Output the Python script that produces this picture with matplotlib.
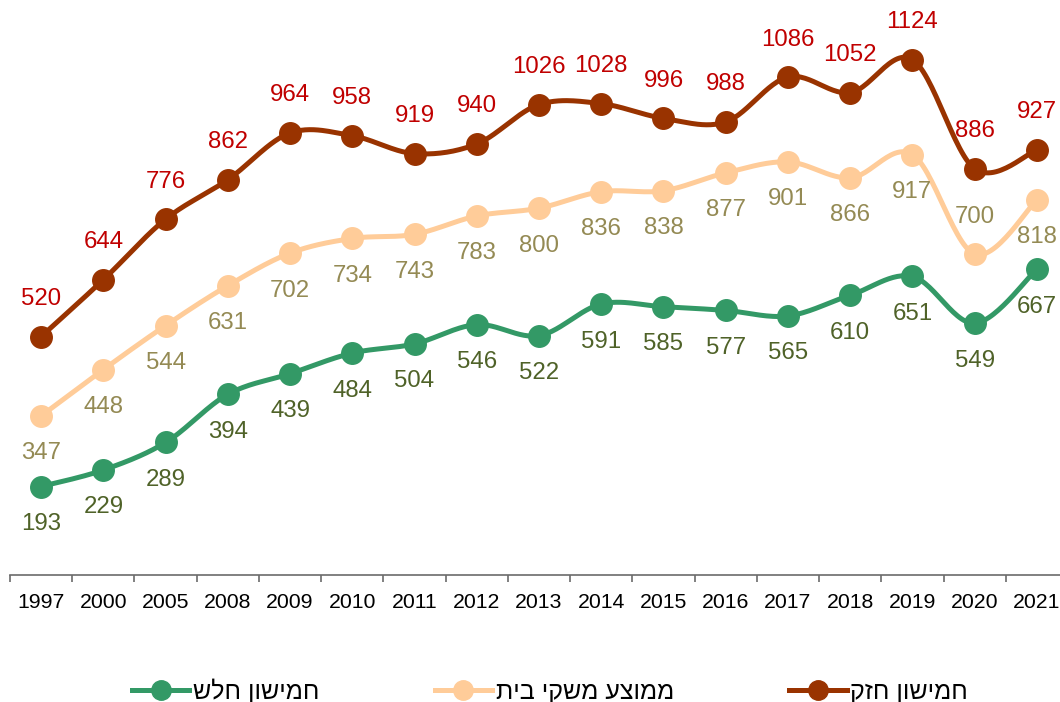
import matplotlib
matplotlib.use("Agg")
import matplotlib.pyplot as plt
from matplotlib.lines import Line2D
import numpy as np

plt.rcParams['font.family'] = ['Liberation Sans', 'DejaVu Sans']

years = ["1997", "2000", "2005", "2008", "2009", "2010", "2011", "2012", "2013",
         "2014", "2015", "2016", "2017", "2018", "2019", "2020", "2021"]
strong = [520, 644, 776, 862, 964, 958, 919, 940, 1026, 1028, 996, 988, 1086,
          1052, 1124, 886, 927]
average = [347, 448, 544, 631, 702, 734, 743, 783, 800, 836, 838, 877, 901,
           866, 917, 700, 818]
weak = [193, 229, 289, 394, 439, 484, 504, 546, 522, 591, 585, 577, 565,
        610, 651, 549, 667]

names = ["חמישון חזק", "ממוצע משקי בית", "חמישון חלש"]


def rtl(s):
    # matplotlib has no bidi support, reverse for display
    return s[::-1]


def smooth(x, y, n=30):
    # excel-like smoothed line: cubic bezier through points
    x = np.asarray(x, float)
    y = np.asarray(y, float)
    P = np.column_stack([x, y])
    out = [P[0]]
    for i in range(len(P) - 1):
        p0 = P[i - 1] if i > 0 else P[i]
        p1 = P[i]
        p2 = P[i + 1]
        p3 = P[i + 2] if i + 2 < len(P) else P[i + 1]
        c1 = p1 + (p2 - p0) / 6
        c2 = p2 - (p3 - p1) / 6
        t = np.linspace(0, 1, n)[1:, None]
        seg = ((1 - t) ** 3) * p1 + 3 * ((1 - t) ** 2) * t * c1 \
            + 3 * (1 - t) * t ** 2 * c2 + t ** 3 * p2
        out.extend(seg)
    out = np.array(out)
    return out[:, 0], out[:, 1]


W, H = 1060, 702
fig = plt.figure(figsize=(W / 100, H / 100), dpi=100)
ax = fig.add_axes([10 / W, (H - 575) / H, 1058 / W, 575 / H])

x = np.arange(len(years))
series = [
    (strong, "#993300", "#C00000", 1),
    (average, "#FFCC99", "#948A54", -1),
    (weak, "#339966", "#4F6228", -1),
]
handles = []
for (vals, col, lcol, side), name in zip(series, names):
    sx, sy = smooth(x, vals)
    ax.plot(sx, sy, color=col, lw=3.6, solid_capstyle="round", zorder=2,
            clip_on=False)
    ax.plot(x, vals, "o", color=col, ms=15.5, zorder=3, clip_on=False)
    for i, v in enumerate(vals):
        s = side
        if vals is average and years[i] == "2020":
            s = 1
        ax.annotate(str(v), (x[i], v), xytext=(0, 27 * s), textcoords="offset points",
                    ha="center", va="center", fontsize=17.3, color=lcol, zorder=5,
                    annotation_clip=False)
    handles.append(Line2D([0], [0], color=col, lw=3.6, marker="o", ms=14,
                          label=rtl(name)))

ax.set_xlim(-0.5, len(years) - 0.5)
ax.set_ylim(0, 1254)
for sp in ["top", "right", "left"]:
    ax.spines[sp].set_visible(False)
ax.spines["bottom"].set_color("#6b6b6b")
ax.spines["bottom"].set_linewidth(1.2)
ax.set_yticks([])
ax.set_xticks(x)
ax.set_xticklabels(years, fontsize=15.3)
ax.tick_params(axis="x", which="major", length=0, pad=13)
ax.set_xticks(np.arange(len(years) + 1) - 0.5, minor=True)
ax.tick_params(axis="x", which="minor", length=5, width=1.2, color="#6b6b6b")

# legend: weak, average, strong from left to right
leg = fig.legend(handles=handles[::-1], loc="center", ncol=3,
                 bbox_to_anchor=(550 / W, 1 - 691 / H), frameon=False,
                 fontsize=18, handlelength=2.3, handletextpad=0.15,
                 columnspacing=4.6)

fig.savefig("out.png", dpi=100)
